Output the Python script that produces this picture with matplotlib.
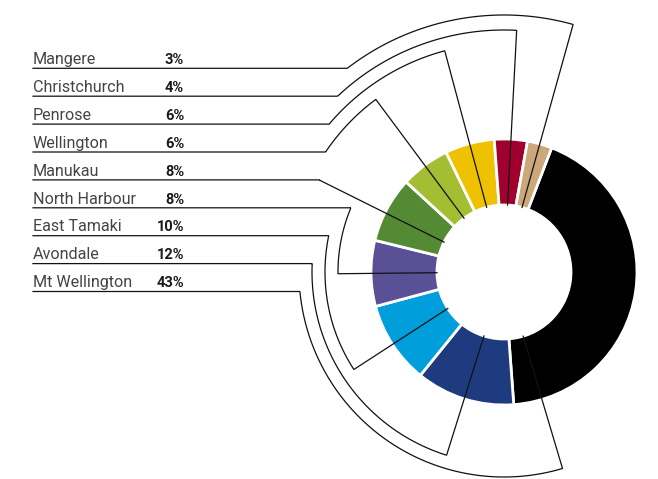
import numpy as np
import matplotlib
matplotlib.use("Agg")
import matplotlib.pyplot as plt

# pie order, clockwise from the top (Mt Wellington first)
sites = ['Mt Wellington', 'Avondale', 'East Tamaki', 'North Harbour', 'Manukau',
         'Wellington', 'Penrose', 'Christchurch', 'Mangere']
shares = [43, 12, 10, 8, 8, 6, 6, 4, 3]
colours = ['#000000', '#1f3b80', '#009edb', '#5a5096', '#558a35',
           '#a4bd32', '#eec200', '#a1002f', '#cba77a']

# leader layout (pixels)
leader_r = [205, 192, 179, 166, 206, 215, 229, 242, 257]
anchor_frac = [0.92, 0.5, 0.5, 0.5, 0.44, 0.5, 0.5, 0.5, 0.5]

W, H = 658, 479
cx, cy = 504, H - 272
r_out, r_in = 133, 67
start = 69

plt.rcParams['font.family'] = ['Roboto', 'DejaVu Sans']

fig = plt.figure(figsize=(W / 100, H / 100), dpi=100)
ax = fig.add_axes([0, 0, 1, 1])
ax.pie(shares, colors=colours, startangle=start, counterclock=False,
       center=(cx, cy), radius=r_out, frame=True,
       wedgeprops=dict(width=r_out - r_in, edgecolor='white', linewidth=2))

cum = np.concatenate([[0], np.cumsum(shares)])
row_y0, row_step = 68.3, 27.9
for i, (site, pct) in enumerate(zip(sites, shares)):
    row = len(sites) - 1 - i
    Y = H - (row_y0 + row * row_step)
    t1 = start - cum[i] * 3.6
    t2 = start - cum[i + 1] * 3.6
    anchor = t1 + anchor_frac[i] * (t2 - t1)

    r = leader_r[i]
    dy = Y - cy
    x_end = cx - np.sqrt(r ** 2 - dy ** 2)
    a0 = np.degrees(np.arctan2(dy, x_end - cx))
    cands = anchor + 360 * np.arange(-2, 3)
    a1 = cands[np.argmin(np.abs(cands - a0))]
    arc = np.radians(np.linspace(a0, a1, 120))
    xs = np.concatenate([[33, x_end], cx + r * np.cos(arc),
                         [cx + r_in * np.cos(arc[-1])]])
    ys = np.concatenate([[Y, Y], cy + r * np.sin(arc),
                         [cy + r_in * np.sin(arc[-1])]])
    ax.plot(xs, ys, color='#111111', lw=0.9, zorder=5, solid_joinstyle='miter')

    ax.text(33, Y + 4.3, site, ha='left', va='baseline', fontsize=11.6,
            color='#444444')
    ax.text(184, Y + 4.3, f'{pct}%', ha='right', va='baseline', fontsize=10.5,
            color='#1a1a1a', fontweight='bold')

ax.set_xlim(0, W)
ax.set_ylim(0, H)
ax.set_aspect('equal')
ax.axis('off')
fig.savefig('out.png', dpi=100)
